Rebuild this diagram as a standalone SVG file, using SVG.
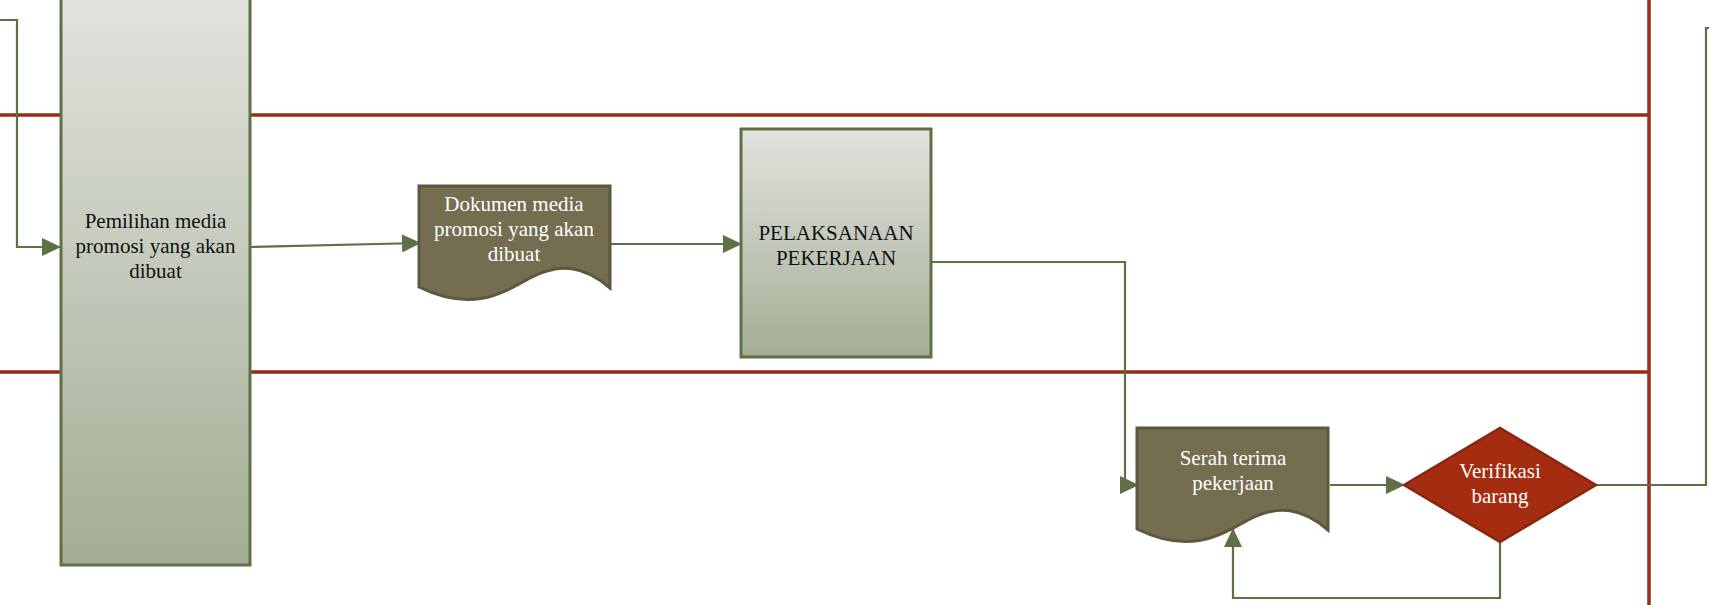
<svg xmlns="http://www.w3.org/2000/svg" width="1709" height="605" viewBox="0 0 1709 605">
<defs>
<linearGradient id="g" x1="0" y1="0" x2="0" y2="1">
<stop offset="0" stop-color="#e2e4df"/>
<stop offset="1" stop-color="#a3ad95"/>
</linearGradient>
<marker id="a" markerUnits="userSpaceOnUse" markerWidth="19" markerHeight="18" refX="18" refY="9" orient="auto">
<path d="M0,0 L19,9 L0,18 Z" fill="#5d7046"/>
</marker>
<path id="docshape" d="M0,0 H191 V102 C166,80 141,76 111,92 C81,109 51,126 0,101 Z"/>
</defs>
<style>
.lane{stroke:#992c13;stroke-width:3.5;fill:none}
.box{fill:url(#g);stroke:#5d7046;stroke-width:3}
.doc{fill:#756d50;stroke:#5c5840;stroke-width:3}
.dec{fill:#a32c11;stroke:#8a2610;stroke-width:2.5}
.c{fill:none;stroke:#5d7046;stroke-width:2.2}
.t{font-family:"Liberation Serif","Times New Roman",serif;font-size:21px;text-anchor:middle}
.dk{fill:#111}
.wh{fill:#fff}
</style>
<g id="lanes">
<line class="lane" x1="0" y1="115" x2="1649" y2="115"/>
<line class="lane" x1="0" y1="372" x2="1649" y2="372"/>
<line class="lane" x1="1649" y1="0" x2="1649" y2="605"/>
</g>
<g id="connectors">
<path class="c" d="M0,20 H17 V247 H60" marker-end="url(#a)"/>
<path class="c" d="M251,247 L420,243" marker-end="url(#a)"/>
<path class="c" d="M610,244 H741" marker-end="url(#a)"/>
<path class="c" d="M931,262 H1125 V485 H1138" marker-end="url(#a)"/>
<path class="c" d="M1330,485 H1404" marker-end="url(#a)"/>
<path class="c" d="M1500,542 V598 H1233 V529" marker-end="url(#a)"/>
<path class="c" d="M1596,485 H1706 V28 H1709"/>
</g>
<g id="node-pemilihan">
<rect class="box" x="61" y="-10" width="189" height="575"/>
<text class="t dk" x="155.5" y="228">Pemilihan media</text>
<text class="t dk" x="155.5" y="253">promosi yang akan</text>
<text class="t dk" x="155.5" y="278">dibuat</text>
</g>
<g id="node-dokumen">
<use href="#docshape" class="doc" x="419" y="186"/>
<text class="t wh" x="514" y="211">Dokumen media</text>
<text class="t wh" x="514" y="236">promosi yang akan</text>
<text class="t wh" x="514" y="261">dibuat</text>
</g>
<g id="node-pelaksanaan">
<rect class="box" x="741" y="129" width="190" height="228"/>
<text class="t dk" x="836" y="240">PELAKSANAAN</text>
<text class="t dk" x="836" y="265">PEKERJAAN</text>
</g>
<g id="node-serah">
<use href="#docshape" class="doc" x="1137" y="428"/>
<text class="t wh" x="1233" y="465">Serah terima</text>
<text class="t wh" x="1233" y="490">pekerjaan</text>
</g>
<g id="node-verifikasi">
<polygon class="dec" points="1404,485 1500,428 1596,485 1500,542"/>
<text class="t wh" x="1500" y="478">Verifikasi</text>
<text class="t wh" x="1500" y="503">barang</text>
</g>
</svg>
